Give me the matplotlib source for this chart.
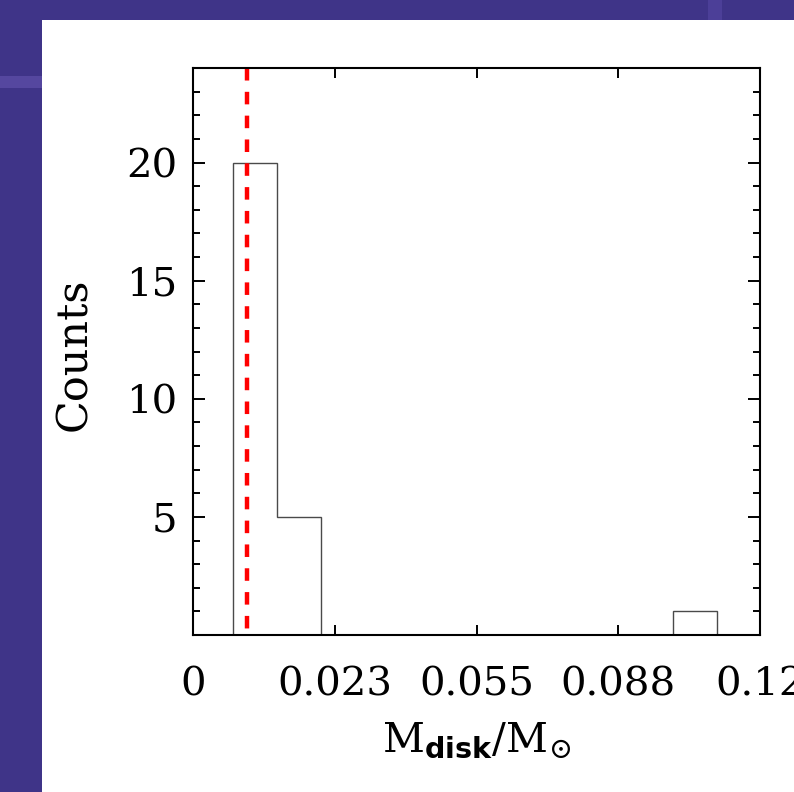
import matplotlib
matplotlib.use("Agg")
import matplotlib.pyplot as plt
from matplotlib.patches import Rectangle

# histogram data
bin_edges = [-0.0008, 0.0093, 0.0194, 0.0294, 0.0395, 0.0496,
             0.0597, 0.0698, 0.0798, 0.0899, 0.1000, 0.1101]
counts = [20, 5, 0, 0, 0, 0, 0, 0, 0, 0, 1]
median_mass = 0.0023

x_ticks = [-0.01, 0.0225, 0.055, 0.0875, 0.12]
x_tick_labels = ["0", "0.023", "0.055", "0.088", "0.12"]
y_ticks = [5, 10, 15, 20]

plt.rcParams["mathtext.fontset"] = "custom"
plt.rcParams["mathtext.rm"] = "DejaVu Serif"
plt.rcParams["mathtext.it"] = "DejaVu Serif:italic"
plt.rcParams["mathtext.bf"] = "DejaVu Serif:bold"
plt.rcParams["mathtext.sf"] = "DejaVu Sans:bold"

W, H = 794, 792
fig = plt.figure(figsize=(W / 100, H / 100), dpi=100)
fig.patch.set_facecolor("#3f3488")

# white slide panel and the lighter stripes of the background
fig.patches.append(Rectangle((0, 1 - 88 / H), 42 / W, 12 / H, transform=fig.transFigure,
                             facecolor="#55479f", edgecolor="none", zorder=-2))
fig.patches.append(Rectangle((708 / W, 1 - 20 / H), 14 / W, 20 / H, transform=fig.transFigure,
                             facecolor="#4c3f98", edgecolor="none", zorder=-2))
fig.patches.append(Rectangle((42 / W, 0), 1 - 42 / W, 1 - 20 / H, transform=fig.transFigure,
                             facecolor="white", edgecolor="none", zorder=-1))

ax = fig.add_axes([193 / W, 1 - 635 / H, 567 / W, 567 / H])
ax.set_facecolor("white")

ax.stairs(counts, bin_edges, color="#4a4a4a", linewidth=1.0, baseline=0)
ax.plot([median_mass, median_mass], [24, 0], color="red", linewidth=3.2,
        dashes=(2.82, 2.54), solid_capstyle="butt", dash_capstyle="butt")

ax.set_xlim(-0.01, 0.12)
ax.set_ylim(0, 24)
ax.set_xticks(x_ticks)
ax.set_xticklabels(x_tick_labels)
ax.set_yticks(y_ticks)
ax.set_yticks(range(1, 24), minor=True)

for s in ax.spines.values():
    s.set_linewidth(1.5)
    s.set_zorder(5)

ax.tick_params(axis="x", which="major", direction="in", top=True, bottom=True,
               length=7, width=1.4, pad=22.8, labelsize=29)
ax.tick_params(axis="y", which="major", direction="in", left=True, right=True,
               length=8.5, width=1.4, pad=11.5, labelsize=29)
ax.tick_params(axis="y", which="minor", direction="in", left=True, right=True,
               length=5, width=1.4)
for lab in ax.get_xticklabels() + ax.get_yticklabels():
    lab.set_family("DejaVu Serif")

fig.text(74 / W, 1 - 354 / H, "Counts", rotation=90, ha="center", va="center",
         fontsize=31, family="DejaVu Serif")
fig.text(477 / W, 1 - 752 / H, r"$\mathrm{M}_{\mathsf{disk}}/\mathrm{M}_{\odot}$",
         ha="center", va="baseline", fontsize=29.5)

fig.savefig("out.png", dpi=100, facecolor=fig.get_facecolor())
